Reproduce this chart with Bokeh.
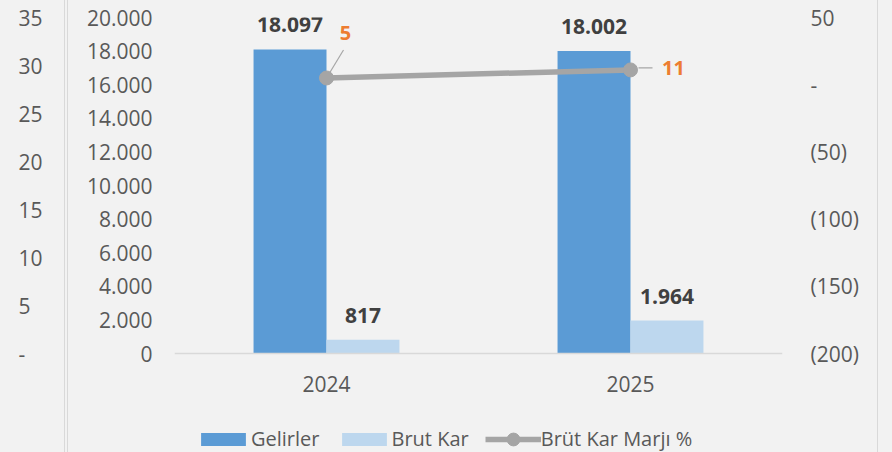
from bokeh.plotting import figure
from bokeh.models import Range1d, LinearAxis, FixedTicker, Legend, LegendItem, Spacer
from bokeh.layouts import row
from bokeh.core.properties import value
from bokeh.embed import file_html
from bokeh.resources import INLINE

# ---------------- data ----------------
years = ["2024", "2025"]
gelirler = [18097, 18002]
brut_kar = [817, 1964]
marj = [5, 11]
gelirler_labels = ["18.097", "18.002"]
brut_kar_labels = ["817", "1.964"]
marj_labels = ["5", "11"]

left_ticks = [0, 2000, 4000, 6000, 8000, 10000, 12000, 14000, 16000, 18000, 20000]
left_tick_labels = ["0", "2.000", "4.000", "6.000", "8.000", "10.000", "12.000",
                    "14.000", "16.000", "18.000", "20.000"]
right_ticks = [-200, -150, -100, -50, 0, 50]
right_tick_labels = ["(200)", "(150)", "(100)", "(50)", "-", "50"]
side_ticks = [0, 5, 10, 15, 20, 25, 30, 35]
side_tick_labels = ["-", "5", "10", "15", "20", "25", "30", "35"]

# ---------------- style ----------------
FONT = "Open Sans"
BG = "#f2f2f2"
BORDER = "#d9d9d9"
TICK_COLOR = "#595959"
C_GEL = "#5B9BD5"
C_BRUT = "#BDD7EE"
C_LINE = "#A5A5A5"
C_ORANGE = "#ED7D31"
H = 452
WA = 64
WB = 809
WEND = 14
MB_L, MB_R, MB_T = 106, 95, 17
PLOT_H = 336          # pixel height of the value area (axis max .. baseline)
EXT = 99              # pixels below the baseline (x labels + legend)
BAR_W = 0.24
DODGE = 0.12

marj_dx = [19, 43]
marj_dy = [-45, -2]
lead_dx0 = [0, 8]
lead_dy0 = [0, -2]
lead_dx1 = [17, 22]
lead_dy1 = [-28, -2]


def style_axis(ax, standoff):
    ax.axis_line_color = None
    ax.major_tick_line_color = None
    ax.minor_tick_line_color = None
    ax.major_tick_out = 0
    ax.major_tick_in = 0
    ax.major_label_standoff = standoff
    ax.major_label_text_font = FONT
    ax.major_label_text_font_size = "21px"
    ax.major_label_text_color = TICK_COLOR


def ext_range(lo, hi):
    return Range1d(lo - (hi - lo) * EXT / PLOT_H, hi)


# ---------------- side fragment (left) ----------------
pa = figure(width=WA, height=H, x_range=Range1d(0, 1), y_range=ext_range(side_ticks[0], side_ticks[-1]),
            y_axis_location="right", x_axis_location=None,
            toolbar_location=None, output_backend="svg",
            min_border_left=0, min_border_right=WA - 2, min_border_top=MB_T, min_border_bottom=0,
            outline_line_color=None, background_fill_color=BG, border_fill_color=BG)
pa.grid.visible = False
ax_side = pa.right[0]
ax_side.ticker = FixedTicker(ticks=side_ticks)
ax_side.major_label_overrides = dict(zip(side_ticks, side_tick_labels))
style_axis(ax_side, 16)

# ---------------- main chart ----------------
pct_lo, pct_hi = right_ticks[0], right_ticks[-1]
pb = figure(width=WB, height=H, x_range=Range1d(0, len(years)),
            y_range=ext_range(left_ticks[0], left_ticks[-1]),
            toolbar_location=None, output_backend="svg",
            min_border_left=MB_L, min_border_right=MB_R, min_border_top=MB_T, min_border_bottom=0,
            outline_line_color=None, background_fill_color=BG, border_fill_color=BG)
pb.grid.visible = False
pb.extra_y_ranges = {"pct": ext_range(pct_lo, pct_hi)}

xc = [i + 0.5 for i in range(len(years))]
xg = [x - DODGE for x in xc]
xb = [x + DODGE for x in xc]

ax_left = pb.left[0]
ax_left.ticker = FixedTicker(ticks=left_ticks)
ax_left.major_label_overrides = dict(zip(left_ticks, left_tick_labels))
style_axis(ax_left, 22)

ax_x = pb.below[0]
ax_x.fixed_location = 0
ax_x.ticker = FixedTicker(ticks=xc)
ax_x.major_label_overrides = dict(zip(xc, years))
style_axis(ax_x, 22)
ax_x.axis_line_color = BORDER
ax_x.axis_line_width = 1.5

ax_right = LinearAxis(y_range_name="pct", ticker=FixedTicker(ticks=right_ticks),
                      major_label_overrides=dict(zip(right_ticks, right_tick_labels)))
style_axis(ax_right, 28)
pb.add_layout(ax_right, "right")

rg = pb.vbar(x=xg, top=gelirler, width=BAR_W, fill_color=C_GEL, line_color=None)
rb = pb.vbar(x=xb, top=brut_kar, width=BAR_W, fill_color=C_BRUT, line_color=None)

# leader lines (pixel offsets converted to data units)
frame_w = WB - MB_L - MB_R
ppx = frame_w / len(years)
ppy = PLOT_H / (pct_hi - pct_lo)
pb.segment(x0=[x + d / ppx for x, d in zip(xc, lead_dx0)],
           y0=[y - d / ppy for y, d in zip(marj, lead_dy0)],
           x1=[x + d / ppx for x, d in zip(xc, lead_dx1)],
           y1=[y - d / ppy for y, d in zip(marj, lead_dy1)],
           y_range_name="pct", line_color="#a6a6a6", line_width=1.2)

rl = pb.line(x=xc, y=marj, y_range_name="pct", line_color=C_LINE, line_width=5.5)
rs = pb.ellipse(x=xc, y=marj, width=14, height=14, width_units="screen", height_units="screen",
                y_range_name="pct", fill_color=C_LINE, line_color=C_LINE)

pb.text(x=xg, y=gelirler, text=gelirler_labels, text_align="center", text_baseline="middle",
        y_offset=-25, text_font=value(FONT), text_font_style="bold", text_font_size="21px",
        text_color="#404040")
pb.text(x=xb, y=brut_kar, text=brut_kar_labels, text_align="center", text_baseline="middle",
        y_offset=-24, text_font=value(FONT), text_font_style="bold", text_font_size="21px",
        text_color="#404040")
pb.text(x=xc, y=marj, text=marj_labels, y_range_name="pct", x_offset=marj_dx, y_offset=marj_dy,
        text_align="center", text_baseline="middle", text_font=value(FONT),
        text_font_style="bold", text_font_size="20px", text_color=C_ORANGE)

legend = Legend(items=[LegendItem(label="Gelirler", renderers=[rg]),
                       LegendItem(label="Brut Kar", renderers=[rb]),
                       LegendItem(label="Brüt Kar Marjı %", renderers=[rl, rs])],
                orientation="horizontal", location=(21, 0), padding=0, margin=0,
                glyph_width=56, glyph_height=16, spacing=16, label_standoff=0,
                border_line_color=None, background_fill_alpha=0,
                label_text_font=FONT, label_text_font_size="20px", label_text_color=TICK_COLOR)
pb.add_layout(legend)


def bar(w, color):
    return Spacer(width=w, height=H, styles={"background-color": color})


layout = row(pa, bar(1, BORDER), bar(2, BG), bar(1, BORDER), pb, bar(1, BORDER), bar(WEND, BG),
             spacing=0, styles={"background-color": BG})

open("out.html", "w", encoding="utf-8").write(file_html(layout, INLINE))
